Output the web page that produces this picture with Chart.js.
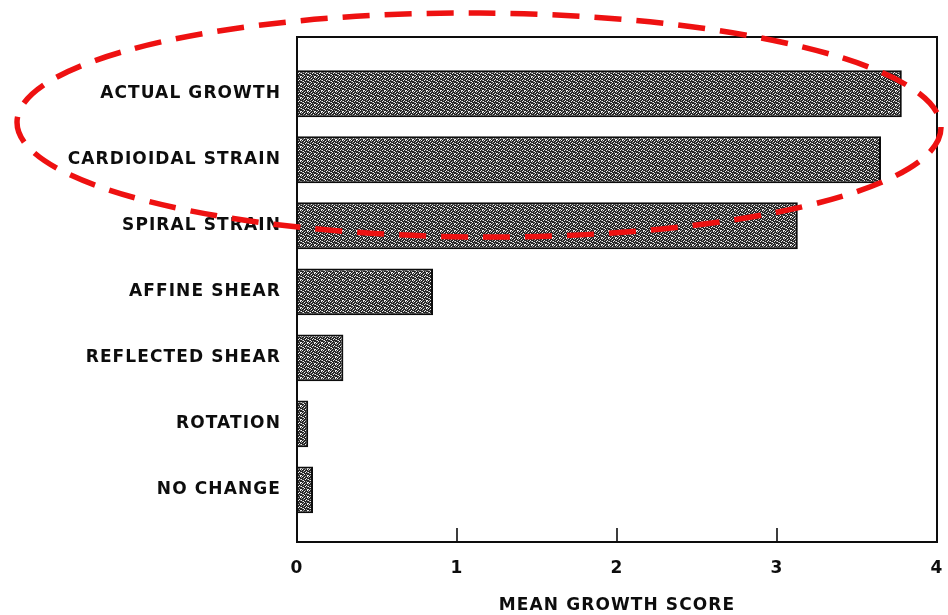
<!DOCTYPE html>
<html>
<head>
<meta charset="utf-8">
<script src="https://cdn.jsdelivr.net/npm/chart.js@4/dist/chart.umd.min.js"></script>
<style>
  html, body { margin: 0; padding: 0; background: #ffffff; }
  #wrap { width: 948px; height: 615px; position: relative; }
</style>
</head>
<body>
<div id="wrap"><canvas id="c" width="948" height="615"></canvas></div>
<script>
// ---- data ----
const categories = ['ACTUAL GROWTH', 'CARDIOIDAL STRAIN', 'SPIRAL STRAIN', 'AFFINE SHEAR', 'REFLECTED SHEAR', 'ROTATION', 'NO CHANGE'];
const meanGrowthScore = [3.78, 3.65, 3.13, 0.85, 0.29, 0.07, 0.10];
const xTickValues = [0, 1, 2, 3, 4];
const xAxisTitle = 'MEAN GROWTH SCORE';

// ---- stipple fill for the bars ----
function makePattern() {
  const rows = [
    '0200102',
    '1002000',
    '0010020',
    '2000201',
    '0120000',
    '0002010',
    '2010002'
  ];
  const n = rows.length;
  const c = document.createElement('canvas');
  c.width = n; c.height = n;
  const g = c.getContext('2d');
  g.fillStyle = '#262626';
  g.fillRect(0, 0, n, n);
  rows.forEach((row, y) => [...row].forEach((b, x) => {
    if (b === '1') { g.fillStyle = '#9a9a9a'; g.fillRect(x, y, 1, 1); }
    if (b === '2') { g.fillStyle = '#f0f0f0'; g.fillRect(x, y, 1, 1); }
  }));
  return g.createPattern(c, 'repeat');
}

const FONT = "'DejaVu Sans', sans-serif";
const INK = '#0d0d0d';

const letterSpacingPlugin = {
  id: 'letterSpacing',
  beforeDraw(chart) { chart.ctx.letterSpacing = '1.1px'; }
};

const framePlugin = {
  id: 'frame',
  afterDatasetsDraw(chart) {
    const { ctx, chartArea: a, scales } = chart;
    ctx.save();
    ctx.strokeStyle = INK;
    ctx.lineWidth = 2;
    ctx.strokeRect(a.left, a.top, a.right - a.left, a.bottom - a.top);
    // inward tick marks on the value axis
    ctx.lineWidth = 1.6;
    [1, 2, 3].forEach(v => {
      const x = scales.x.getPixelForValue(v);
      ctx.beginPath();
      ctx.moveTo(x, a.bottom);
      ctx.lineTo(x, a.bottom - 14);
      ctx.stroke();
    });
    ctx.restore();
  }
};

// red dashed ellipse annotation around the top two bars
const ellipseNote = { cx: 479, cy: 125, rx: 462, ry: 112, rot: 0.006 };
const ellipsePlugin = {
  id: 'ellipseNote',
  afterDraw(chart) {
    const ctx = chart.ctx;
    ctx.save();
    ctx.strokeStyle = '#ee1111';
    ctx.lineWidth = 5.5;
    ctx.setLineDash([27, 15]);
    ctx.beginPath();
    ctx.ellipse(ellipseNote.cx, ellipseNote.cy, ellipseNote.rx, ellipseNote.ry, ellipseNote.rot, 0, Math.PI * 2);
    ctx.stroke();
    ctx.restore();
  }
};

const ctx = document.getElementById('c').getContext('2d');
new Chart(ctx, {
  type: 'bar',
  data: {
    datasets: [{
      data: meanGrowthScore.map((v, i) => ({ x: v, y: i })),
      backgroundColor: makePattern(),
      borderColor: INK,
      borderWidth: 2,
      borderSkipped: 'start',
      categoryPercentage: 1.0,
      barPercentage: 0.71
    }]
  },
  options: {
    indexAxis: 'y',
    responsive: false,
    animation: false,
    devicePixelRatio: 1,
    layout: { padding: { left: 0, right: 11, top: 37, bottom: 0 } },
    plugins: { legend: { display: false }, tooltip: { enabled: false } },
    scales: {
      y: {
        type: 'linear',
        reverse: true,
        offset: false,
        min: -0.86,
        max: 6.79,
        afterBuildTicks: (scale) => { scale.ticks = categories.map((_, i) => ({ value: i })); },
        afterFit: (scale) => { scale.width = 297; scale.paddingTop = 0; scale.paddingBottom = 0; },
        grid: { display: false, drawTicks: false, offset: false },
        border: { display: true, color: INK, width: 2 },
        ticks: {
          padding: 16,
          color: INK,
          font: { family: FONT, size: 17, weight: 'bold' },
          callback: (v) => categories[v]
        }
      },
      x: {
        type: 'linear',
        min: 0,
        max: 4,
        afterBuildTicks: (scale) => { scale.ticks = xTickValues.map(v => ({ value: v })); },
        afterFit: (scale) => { scale.height = 73; scale.paddingLeft = 0; scale.paddingRight = 0; },
        grid: { display: false, drawTicks: false },
        border: { display: true, color: INK, width: 2 },
        ticks: {
          padding: 16,
          color: INK,
          font: { family: FONT, size: 17, weight: 'bold' }
        },
        title: {
          display: true,
          text: xAxisTitle,
          color: INK,
          font: { family: FONT, size: 17, weight: 'bold' },
          padding: { top: 0, bottom: -1 }
        }
      }
    }
  },
  plugins: [letterSpacingPlugin, framePlugin, ellipsePlugin]
});
</script>
</body>
</html>
